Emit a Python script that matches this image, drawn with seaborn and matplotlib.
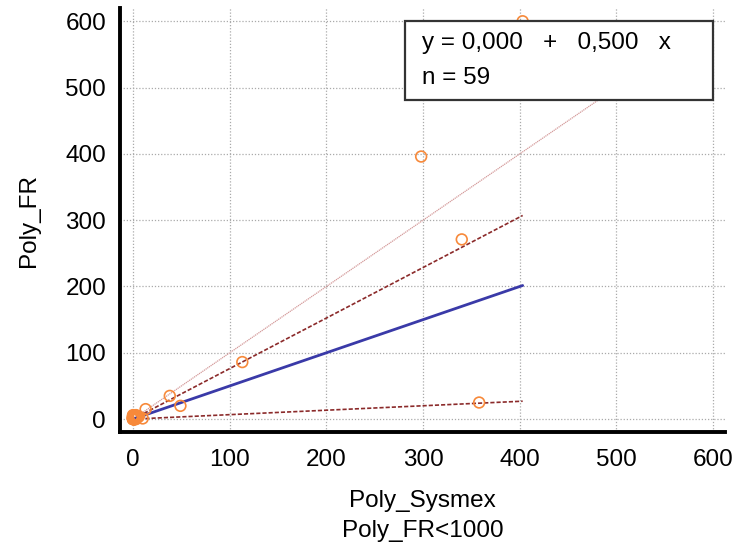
import numpy as np
import pandas as pd
import matplotlib
matplotlib.use("Agg")
import matplotlib.pyplot as plt
from matplotlib.ticker import MultipleLocator
from matplotlib.patches import Rectangle
import seaborn as sns

# ---- data ----
sysmex = [403, 298, 340, 358, 113, 38, 49, 13, 10,
          0, 1, 2, 0, 3, 1, 0, 2, 4, 1, 0, 2, 3, 0, 1, 5, 0, 2, 1, 0, 3,
          1, 0, 2, 0, 1, 4, 0, 2, 1, 0, 3, 1, 0, 2, 0, 1, 0, 2, 1, 0,
          6, 0, 1, 2, 0, 3, 1, 0, 2]
fr = [600, 396, 271, 25, 86, 35, 20, 15, 1,
      0, 2, 1, 3, 4, 0, 1, 2, 3, 5, 0, 1, 6, 2, 0, 3, 4, 0, 1, 2, 5,
      0, 1, 3, 2, 0, 2, 6, 1, 0, 4, 2, 3, 0, 1, 0, 2, 1, 3, 0, 5,
      4, 2, 0, 1, 3, 0, 2, 1, 0]

intercept = 0.0
slope = 0.5
slope_hi = 0.762
slope_lo = 0.067
identity_slope = 1.0
x_ticks = [0, 100, 200, 300, 400, 500, 600]
y_ticks = [0, 100, 200, 300, 400, 500, 600]

df = pd.DataFrame({"Poly_Sysmex": sysmex, "Poly_FR": fr})

sns.set_style("white")
plt.rcParams["font.family"] = ["Liberation Sans", "DejaVu Sans"]
plt.rcParams["text.color"] = "black"
plt.rcParams["axes.labelcolor"] = "black"
plt.rcParams["xtick.labelcolor"] = "black"
plt.rcParams["ytick.labelcolor"] = "black"

fig = plt.figure(figsize=(7.38, 5.45), dpi=100)
ax = fig.add_axes([0.1626, 0.2073, 0.8194, 0.778])

xmax = max(sysmex)
xl = np.array([0, xmax])
xid = np.array([0, 600])

ax.plot(xid, intercept + identity_slope * xid, color="#d49a9a", lw=0.9, ls=(0, (1, 0.6)), zorder=2)
ax.plot(xl, intercept + slope_hi * xl, color="#8b2a2a", lw=1.2, ls=(0, (2.5, 1.2)), zorder=3)
ax.plot(xl, intercept + slope_lo * xl, color="#8b2a2a", lw=1.2, ls=(0, (2.5, 1.2)), zorder=3)
sns.lineplot(x=xl, y=intercept + slope * xl, color="#3a3aa8", lw=2, ax=ax, zorder=4)

sns.scatterplot(data=df, x="Poly_Sysmex", y="Poly_FR", ax=ax, marker="o", s=60,
                facecolor="none", edgecolor="#f7893a", linewidth=1.2, zorder=5,
                clip_on=False)

ax.set_xlim(-13.5, 612)
ax.set_ylim(-19.5, 620)
ax.set_xticks(x_ticks)
ax.set_yticks(y_ticks)
ax.xaxis.set_minor_locator(MultipleLocator(50))
ax.yaxis.set_minor_locator(MultipleLocator(50))
ax.tick_params(which="major", direction="in", length=8, width=1.2, color="#555555",
               labelsize=17.5, labelcolor="black")
ax.tick_params(axis="y", which="major", pad=10)
ax.tick_params(axis="x", which="major", pad=12)
ax.tick_params(which="minor", direction="in", length=4, width=1, color="#555555")
ax.grid(True, which="major", color="#aaaaaa", ls=(0, (1, 1.5)), lw=0.9)
ax.set_axisbelow(True)

for s in ["top", "right"]:
    ax.spines[s].set_visible(False)
for s in ["left", "bottom"]:
    ax.spines[s].set_linewidth(2.8)
    ax.spines[s].set_color("black")

ax.set_xlabel("Poly_Sysmex\nPoly_FR<1000", fontsize=17.5, labelpad=14, linespacing=1.45,
              color="black")
ax.set_ylabel("Poly_FR", fontsize=17.5, labelpad=18, color="black")

# equation box
box = Rectangle((0.471, 0.783), 0.509, 0.186, transform=ax.transAxes,
                facecolor="white", edgecolor="#333333", lw=1.6, zorder=10, clip_on=False)
ax.add_patch(box)
ax.text(0.499, 0.917, "y = 0,000   +   0,500   x", transform=ax.transAxes,
        fontsize=17.5, va="center", ha="left", zorder=11, color="black")
ax.text(0.499, 0.835, "n = 59", transform=ax.transAxes,
        fontsize=17.5, va="center", ha="left", zorder=11, color="black")

fig.savefig("out.png", dpi=100)
